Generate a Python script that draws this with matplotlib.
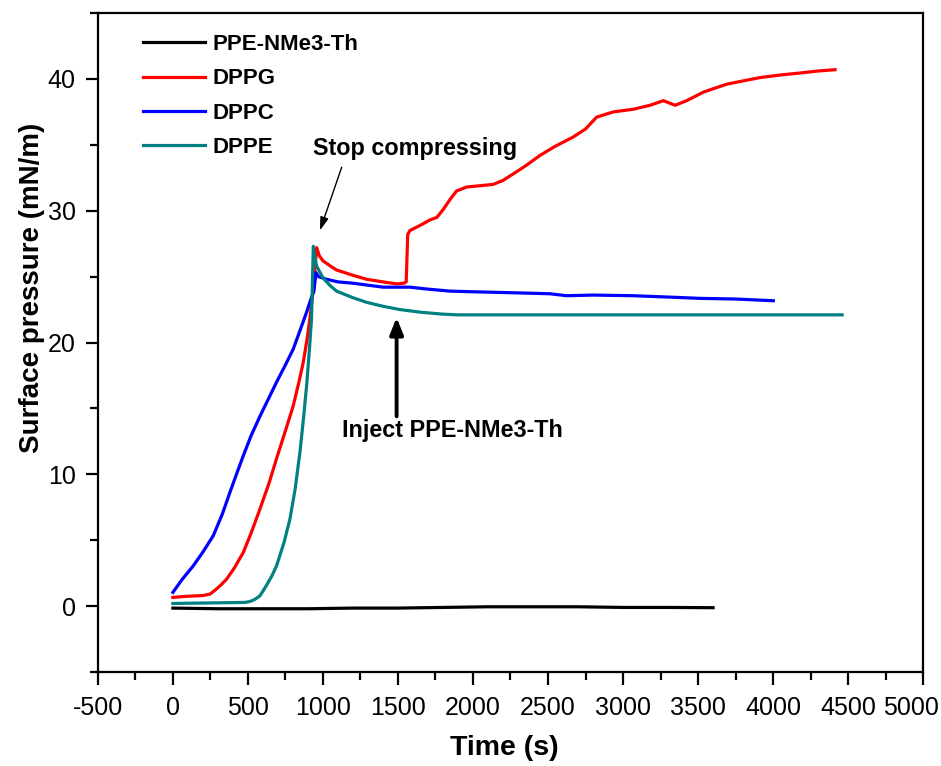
import matplotlib
matplotlib.use("Agg")
import matplotlib.pyplot as plt
from matplotlib.ticker import MultipleLocator
from matplotlib.transforms import ScaledTranslation

plt.rcParams['font.family'] = ['Liberation Sans', 'DejaVu Sans']
plt.rcParams['axes.unicode_minus'] = False

# ---- data ----
ppe_t = [0, 300, 600, 900, 1200, 1500, 1800, 2100, 2400, 2700, 3000, 3300, 3600]
ppe_p = [-0.15, -0.2, -0.2, -0.2, -0.15, -0.15, -0.1, -0.05, -0.05, -0.05, -0.1, -0.1, -0.12]

dppg_t = [0, 100, 200, 247, 280, 320, 358, 410, 469, 520, 580, 640, 691, 750, 802, 840,
          869, 895, 913, 930, 947, 958, 975, 1000, 1050, 1091, 1200, 1291, 1400, 1491,
          1540, 1555, 1565, 1580, 1650, 1713, 1760, 1802, 1850, 1891, 1958, 2050, 2136,
          2200, 2269, 2350, 2447, 2550, 2669, 2750, 2824, 2936, 3069, 3180, 3269, 3347,
          3424, 3536, 3600, 3691, 3800, 3913, 4050, 4180, 4300, 4413]
dppg_p = [0.66, 0.75, 0.8, 0.91, 1.2, 1.6, 2.05, 2.9, 4.07, 5.5, 7.36, 9.3, 11.2, 13.3,
          15.2, 17.0, 18.5, 20.3, 21.8, 23.5, 25.6, 27.2, 26.6, 26.2, 25.8, 25.5, 25.1,
          24.8, 24.6, 24.45, 24.5, 24.6, 28.2, 28.5, 28.9, 29.3, 29.5, 30.1, 30.9, 31.5,
          31.8, 31.9, 32.0, 32.3, 32.8, 33.4, 34.2, 34.9, 35.6, 36.2, 37.1, 37.5, 37.7,
          38.0, 38.35, 38.0, 38.35, 39.0, 39.25, 39.6, 39.85, 40.1, 40.3, 40.45, 40.6, 40.7]

dppc_t = [0, 60, 136, 200, 269, 330, 380, 430, 469, 520, 580, 640, 691, 750, 802, 850,
          891, 920, 940, 953, 970, 1024, 1100, 1200, 1300, 1402, 1500, 1580, 1700, 1847,
          2000, 2180, 2350, 2513, 2624, 2800, 3069, 3300, 3513, 3750, 4002]
dppc_p = [1.04, 2.0, 3.06, 4.1, 5.34, 7.0, 8.63, 10.2, 11.4, 12.9, 14.4, 15.8, 17.0,
          18.3, 19.5, 21.0, 22.3, 23.3, 23.9, 25.3, 25.0, 24.8, 24.6, 24.5, 24.35, 24.2,
          24.2, 24.2, 24.05, 23.9, 23.85, 23.8, 23.75, 23.7, 23.55, 23.6, 23.55, 23.45,
          23.35, 23.3, 23.17]

dppe_t = [0, 300, 480, 513, 545, 580, 620, 660, 691, 740, 780, 815, 847, 870, 891, 910,
          924, 936, 945, 958, 1000, 1050, 1091, 1200, 1291, 1400, 1513, 1650, 1800, 1900,
          2200, 3000, 3800, 4460]
dppe_p = [0.2, 0.25, 0.28, 0.35, 0.5, 0.78, 1.5, 2.3, 3.06, 4.8, 6.6, 8.9, 11.7, 14.2,
          16.7, 19.5, 21.8, 27.3, 26.5, 25.8, 24.9, 24.3, 23.9, 23.4, 23.05, 22.75, 22.5,
          22.3, 22.15, 22.1, 22.1, 22.1, 22.1, 22.1]

labels = ["PPE-NMe3-Th", "DPPG", "DPPC", "DPPE"]
colors = ["#000000", "#FF0000", "#0000FF", "#008080"]
x_ticks = [-500, 0, 500, 1000, 1500, 2000, 2500, 3000, 3500, 4000, 4500, 5000]
y_ticks = [0, 10, 20, 30, 40]

fig = plt.figure(figsize=(9.41, 7.66), dpi=100)
ax = fig.add_axes([0.104, 0.1227, 0.877, 0.8603])

series = [(ppe_t, ppe_p), (dppg_t, dppg_p), (dppc_t, dppc_p), (dppe_t, dppe_p)]
for (t, p), lab, c in zip(series, labels, colors):
    ax.plot(t, p, color=c, lw=2.3, label=lab)

ax.set_xlim(-500, 5000)
ax.set_ylim(-5, 45)
ax.set_xticks(x_ticks)
ax.set_xticklabels([str(v) for v in x_ticks])
ax.set_yticks(y_ticks)
ax.set_yticklabels([str(v) for v in y_ticks])
ax.xaxis.set_minor_locator(MultipleLocator(250))
ax.yaxis.set_minor_locator(MultipleLocator(5))
ax.tick_params(which='major', direction='out', length=9, width=1.6, top=False, right=False,
               labelsize=18)
ax.tick_params(axis='x', which='major', pad=8)
ax.tick_params(axis='y', which='major', pad=7)
ax.tick_params(which='minor', direction='out', length=5.5, width=1.6, top=False, right=False)
for s in ax.spines.values():
    s.set_linewidth(1.6)

last = ax.get_xticklabels()[-1]
last.set_horizontalalignment('right')
last.set_transform(last.get_transform() + ScaledTranslation(0.16, 0, fig.dpi_scale_trans))

ax.set_xlabel("Time (s)", fontsize=20.5, fontweight='bold', va='top')
ax.xaxis.set_label_coords(0.493, -0.095)
ax.set_ylabel("Surface pressure (mN/m)", fontsize=20, fontweight='bold')
ax.yaxis.set_label_coords(-0.064, 0.583)

ax.legend(loc='upper left', frameon=False, prop={'weight': 'bold', 'size': 16},
          handlelength=2.8, handletextpad=0.32, labelspacing=0.6,
          bbox_to_anchor=(0.0545, 0.968), borderaxespad=0, borderpad=0)

ax.annotate("", xy=(980, 28.5), xytext=(1125, 33.3),
            arrowprops=dict(arrowstyle='-|>,head_length=0.8,head_width=0.25',
                            color='black', lw=1.0, shrinkA=0, shrinkB=0))
ax.text(933, 34.7, "Stop compressing", fontsize=16.8, fontweight='bold', va='center', ha='left')

ax.annotate("", xy=(1491, 21.9), xytext=(1491, 14.4),
            arrowprops=dict(arrowstyle='-|>,head_length=1.0,head_width=0.4',
                            color='black', lw=2.8, shrinkA=0, shrinkB=0))
ax.text(1125, 13.3, "Inject PPE-NMe3-Th", fontsize=16.8, fontweight='bold', va='center', ha='left')

fig.savefig("out.png", dpi=100)
